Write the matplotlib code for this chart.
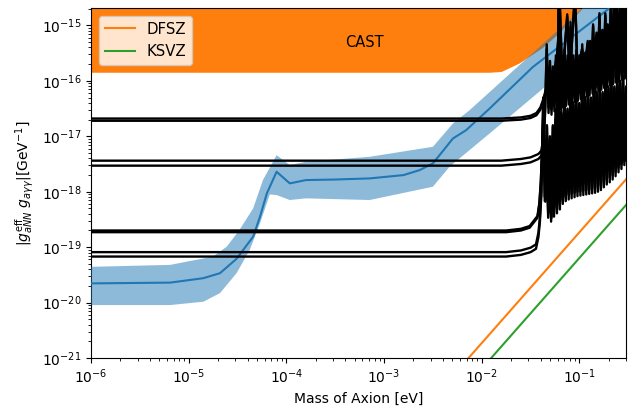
import numpy as np
import matplotlib
matplotlib.use("Agg")
import matplotlib.pyplot as plt

# ---------------- data (log10 values) ----------------
# central expected sensitivity (blue line)
blue_logm = [-6.0, -5.19, -4.85, -4.68, -4.51, -4.34, -4.27, -4.20, -4.10, -3.965,
             -3.80, -3.50, -3.147, -2.80, -2.636, -2.50, -2.295, -2.16, -1.92, -1.477,
             -0.693, -0.52]
blue_logg = [-19.654, -19.64, -19.56, -19.47, -19.21, -18.81, -18.45, -18.03, -17.64, -17.85,
             -17.79, -17.78, -17.76, -17.70, -17.61, -17.49, -17.04, -16.89, -16.50, -15.75,
             -14.69, -14.45]
# band upper / lower edges
band_up_logm = [-6.0, -5.19, -4.75, -4.61, -4.48, -4.34, -4.24, -4.10, -3.965, -3.80,
                -3.147, -2.50, -2.295, -2.125, -0.97, -0.52]
band_up_logg = [-19.355, -19.32, -19.17, -18.99, -18.69, -18.30, -17.79, -17.34, -17.52, -17.46,
                -17.37, -17.19, -16.77, -16.53, -14.69, -14.0]
band_lo_logm = [-6.0, -5.19, -4.85, -4.68, -4.51, -4.375, -4.27, -4.17, -4.10, -3.965,
                -3.80, -3.147, -2.50, -2.33, -1.92, -0.523]
band_lo_logg = [-20.045, -20.045, -19.985, -19.83, -19.47, -19.05, -18.57, -18.05, -18.06, -18.15,
                -18.12, -18.15, -17.91, -17.55, -16.95, -14.88]

# CAST excluded region, lower edge
cast_logm = [-6.0, -1.92, -1.80, -1.62, -1.38, -1.20, -0.97, -0.52]
cast_logg = [-15.845, -15.845, -15.83, -15.68, -15.40, -15.12, -14.69, -13.9]

# QCD axion model lines (endpoints)
dfsz_m = [7.33e-3, 0.3]
dfsz_g = [1.0e-21, 1.67e-18]
ksvz_m = [1.25e-2, 0.3]
ksvz_g = [1.0e-21, 5.75e-19]

# black sensitivity curves: flat levels (log10) for each pair
pair_levels = [[-16.68, -16.72], [-17.44, -17.53], [-18.70, -18.73], [-19.09, -19.17]]

# rise above the flat level (decades) vs log10 mass, one shape per pair
shape1_logm = [-6, -1.8, -1.6, -1.5, -1.44, -1.40, -1.37, -1.34, -1.30, -1.26, -1.23, -1.215, -1.205,
               -1.175, -1.125, -1.10, -1.045, -1.02, -0.975, -0.95, -0.915, -0.90, -0.89,
               -0.875, -0.86, -0.845, -0.825, -0.81, -0.795, -0.78, -0.765, -0.75, -0.735, -0.72,
               -0.71, -0.695, -0.68, -0.665, -0.645, -0.63, -0.615, -0.60, -0.585, -0.57, -0.56,
               -0.545, -0.53, -0.515]
shape1_r = [0, 0, 0.02, 0.05, 0.10, 0.20, 0.35, 0.55, 0.70, 0.85, 1.1, 1.5, 2.3,
            0.70, 1.88, 0.74, 2.3, 0.80, 1.25, 0.84, 1.4, 0.87, 1.4,
            0.88, 1.7, 0.90, 1.55, 0.92, 1.9, 0.94, 1.6, 0.96, 1.9, 0.98,
            1.7, 1.0, 2.0, 1.02, 2.3, 1.05, 2.0, 1.08, 2.1, 1.10, 2.3,
            1.13, 2.0, 1.15]

shape2_logm = [-6, -1.8, -1.6, -1.5, -1.42, -1.39, -1.365, -1.35, -1.335,
               -1.316, -1.301, -1.286, -1.271, -1.256, -1.241, -1.226, -1.211, -1.196, -1.181,
               -1.166, -1.151, -1.136, -1.121, -1.106, -1.091, -1.076, -1.061, -1.046, -1.031,
               -1.016, -1.001, -0.986, -0.971, -0.956, -0.941, -0.926, -0.911, -0.896, -0.881,
               -0.866, -0.851, -0.836, -0.821, -0.806, -0.791, -0.776, -0.761, -0.746, -0.731,
               -0.716, -0.701, -0.686, -0.671, -0.656, -0.641, -0.626, -0.611, -0.596, -0.581,
               -0.566, -0.551, -0.536, -0.521, -0.506]
shape2_r = [0, 0, 0.03, 0.06, 0.12, 0.18, 0.45, 1.0, 2.1,
            0.95, 1.8, 0.92, 1.7, 0.98, 1.9, 1.0, 3.0, 1.02, 1.9,
            1.05, 2.0, 1.08, 1.9, 1.10, 2.5, 1.12, 1.9, 1.15, 2.0,
            1.17, 1.9, 1.20, 2.1, 1.22, 1.95, 1.25, 2.1, 1.27, 2.0,
            1.30, 2.2, 1.32, 2.0, 1.35, 2.1, 1.37, 2.0, 1.40, 2.3,
            1.42, 2.1, 1.45, 2.2, 1.47, 3.0, 1.50, 2.2, 1.52, 2.4,
            1.55, 2.2, 1.57, 2.5, 1.60]

shape3_logm = [-6, -1.75, -1.6, -1.51, -1.43, -1.41, -1.395, -1.38, -1.37,
               -1.3475, -1.3325, -1.3175, -1.3025, -1.2875, -1.2725, -1.2575, -1.2425, -1.2275,
               -1.2125, -1.1975, -1.1825, -1.1675, -1.1525, -1.1375, -1.1225, -1.1075, -1.0925,
               -1.0775, -1.0625, -1.0475, -1.0325, -1.0175, -1.0025, -0.9875, -0.9725, -0.9575,
               -0.9425, -0.9275, -0.9125, -0.8975, -0.8825, -0.8675, -0.8525, -0.8375, -0.8225,
               -0.8075, -0.7925, -0.7775, -0.7625, -0.7475, -0.7325, -0.7175, -0.7025, -0.6875,
               -0.6725, -0.6575, -0.6425, -0.6275, -0.6125, -0.5975, -0.5825, -0.5675, -0.5525,
               -0.5375, -0.5225, -0.5075]
shape3_r = [0, 0, 0.03, 0.08, 0.26, 0.50, 0.90, 1.6, 2.4,
            0.55, 1.9, 0.35, 1.7, 0.25, 1.9, 0.45, 2.2, 0.55,
            2.8, 0.55, 2.1, 0.62, 2.4, 0.68, 2.2, 0.72, 2.6,
            0.76, 2.3, 0.80, 2.5, 0.82, 2.3, 0.85, 2.7, 0.88,
            2.4, 0.90, 2.6, 0.92, 2.4, 0.95, 2.8, 0.97, 2.5,
            1.0, 2.7, 1.03, 2.5, 1.06, 2.9, 1.09, 2.6, 1.12,
            2.8, 1.15, 2.6, 1.18, 2.9, 1.21, 2.7, 1.24, 2.8,
            1.28, 2.6, 1.30]

shape4_logm = [-6, -1.75, -1.6, -1.5, -1.445, -1.42, -1.405, -1.39, -1.38, -1.37,
               -1.355, -1.34, -1.32, -1.305, -1.29, -1.275, -1.26, -1.245, -1.23, -1.215,
               -1.20, -1.185, -1.17, -1.155, -1.14, -1.125, -1.11, -1.095, -1.08, -1.065,
               -1.05, -1.035, -1.02, -1.005, -0.99, -0.975, -0.96, -0.945, -0.93, -0.915,
               -0.90, -0.885, -0.87, -0.855, -0.84, -0.825, -0.81, -0.795, -0.78, -0.765,
               -0.75, -0.735, -0.72, -0.705, -0.69, -0.675, -0.66, -0.645, -0.63, -0.615,
               -0.60, -0.585, -0.57, -0.555, -0.54, -0.525, -0.51]
shape4_r = [0, 0, 0.03, 0.08, 0.14, 0.35, 0.62, 1.1, 1.9, 2.5,
            1.0, 2.0, 0.70, 1.8, 0.63, 2.1, 0.72, 2.4, 0.78, 2.0,
            0.85, 2.6, 0.95, 2.2, 1.0, 2.5, 1.03, 2.3, 1.05, 2.7,
            1.07, 2.3, 1.09, 2.6, 1.10, 2.4, 1.11, 2.8, 1.12, 2.4,
            1.13, 2.6, 1.14, 2.5, 1.15, 2.8, 1.17, 2.5, 1.20, 2.7,
            1.25, 2.6, 1.30, 2.9, 1.34, 2.6, 1.39, 2.8, 1.45, 2.7,
            1.52, 2.9, 1.58, 2.7, 1.65, 2.8, 1.70]

shapes = [(shape1_logm, shape1_r), (shape2_logm, shape2_r),
          (shape3_logm, shape3_r), (shape4_logm, shape4_r)]

# ---------------- plot ----------------
fig = plt.figure(figsize=(6.33, 4.07), dpi=100)
ax = fig.add_axes([0.1438, 0.1204, 0.989 - 0.1438, 0.980 - 0.1204])
ax.set_xscale("log")
ax.set_yscale("log")

# CAST
cm = 10 ** np.array(cast_logm)
cg = 10 ** np.array(cast_logg)
ax.fill_between(cm, cg, 1e-13, color="C1", lw=0, zorder=1)
ax.text(6.3e-4, 4.9e-16, "CAST", ha="center", va="center", fontsize=10.5, zorder=6)

# model lines
ax.plot(dfsz_m, dfsz_g, color="C1", lw=1.5, label="DFSZ", zorder=2)
ax.plot(ksvz_m, ksvz_g, color="C2", lw=1.5, label="KSVZ", zorder=2)

# blue band + line
bx = np.concatenate([10 ** np.array(band_up_logm), 10 ** np.array(band_lo_logm)[::-1]])
by = np.concatenate([10 ** np.array(band_up_logg), 10 ** np.array(band_lo_logg)[::-1]])
ax.fill(bx, by, color="C0", alpha=0.5, lw=0, zorder=3)
ax.plot(10 ** np.array(blue_logm), 10 ** np.array(blue_logg), color="C0", lw=1.5, zorder=4)

# black curves
for (sx, sr), levels in zip(shapes, pair_levels):
    for lev in levels:
        ax.plot(10 ** np.array(sx), 10 ** (lev + np.array(sr)), color="black", lw=1.7, zorder=5)

ax.set_xlim(1e-6, 0.3)
ax.set_ylim(1e-21, 2.05e-15)
ax.set_xlabel("Mass of Axion [eV]")
ax.set_ylabel(r"$|g^{\rm eff}_{aNN}\ g_{a\gamma\gamma}| [{\rm GeV}^{-1}]$")
ax.legend(loc="upper left", fontsize=10.8)

fig.savefig("out.png", dpi=100)
